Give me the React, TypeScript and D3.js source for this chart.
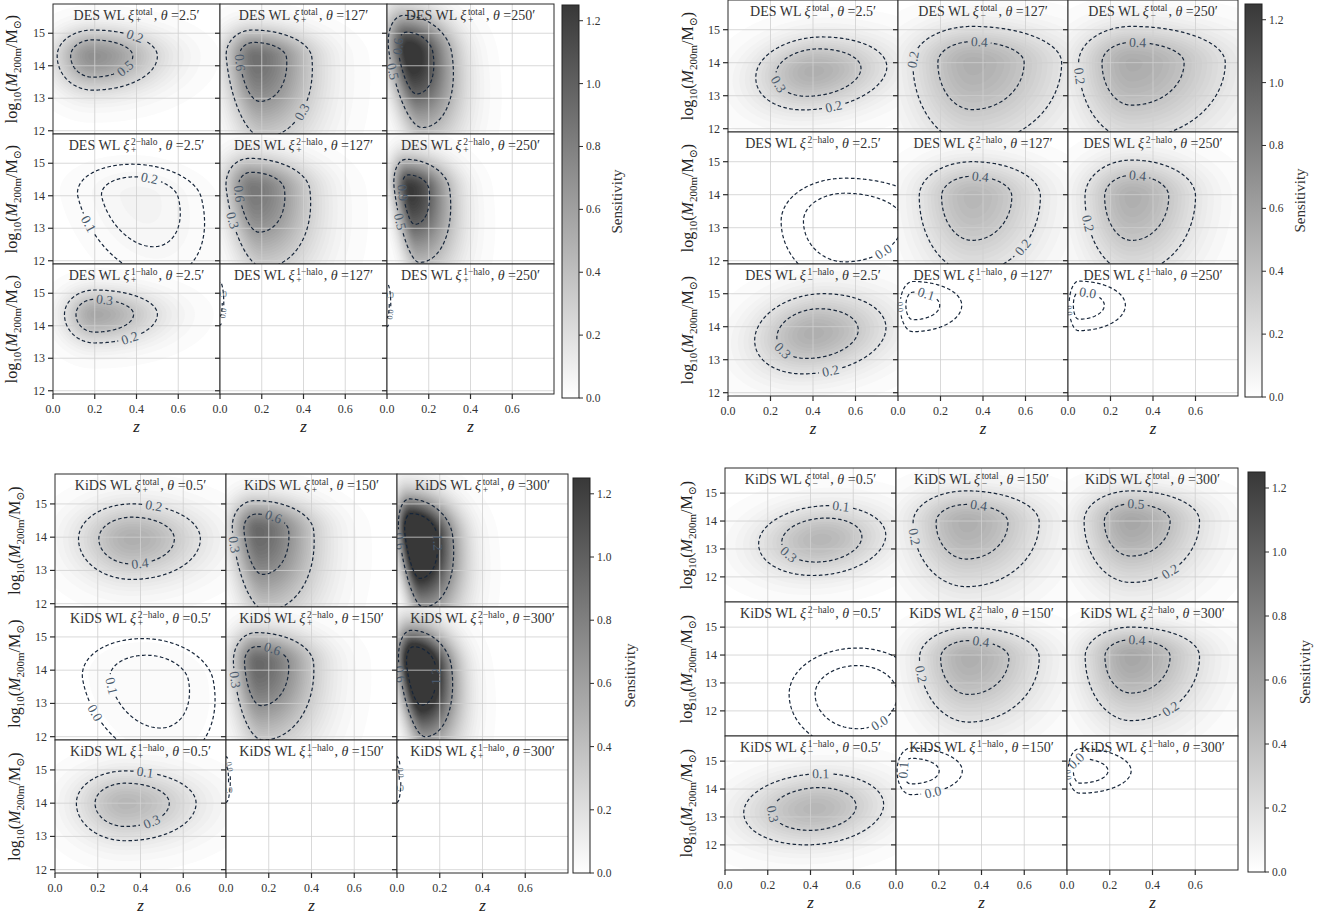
import React from 'react';
import * as d3 from 'd3';

// ---- values ----
const zTicks = [0, 0.2, 0.4, 0.6];
const massTicks = [12, 13, 14, 15];
const sensTicks = [0, 0.2, 0.4, 0.6, 0.8, 1.0, 1.2];
const rowKinds = ['total', '2−halo', '1−halo'];
const desThetas = ['2.5', '127', '250'];
const kidsThetas = ['0.5', '150', '300'];

// one blob per panel, row-major (total, 2-halo, 1-halo x three angles)
// [zPeak, logMPeak, zLeft, zRight, mUp, mDown, shear, innerRatio, peakSensitivity]
const desPlusBlobs = [
  [0.19, 14.3, 0.17, 0.31, 0.8, 1.05, 0, 0.62, 0.7],
  [0.17, 14.25, 0.14, 0.27, 0.85, 2.45, -0.015, 0.55, 0.9],
  [0.11, 14.4, 0.1, 0.2, 1.15, 2.3, -0.025, 0.55, 1.35],
  [0.42, 13.95, 0.3, 0.29, 1.02, 2.45, -0.04, 0.62, 0.07],
  [0.16, 14.2, 0.13, 0.27, 0.95, 2.4, -0.02, 0.55, 0.85],
  [0.11, 14.2, 0.075, 0.19, 0.92, 2.25, -0.02, 0.48, 1.25],
  [0.2, 14.35, 0.145, 0.3, 0.75, 0.88, 0, 0.62, 0.55],
  [0.0, 14.7, 0.01, 0.018, 0.65, 0.68, 0, 0.6, 0],
  [0.0, 14.65, 0.01, 0.018, 0.65, 0.68, 0, 0.6, 0],
];
const desMinusBlobs = [
  [0.4, 13.75, 0.265, 0.345, 1.03, 1.18, 0.04, 0.65, 0.5],
  [0.35, 14.0, 0.28, 0.42, 1.1, 2.45, 0, 0.58, 0.5],
  [0.3, 14.0, 0.25, 0.44, 1.1, 2.3, 0, 0.56, 0.52],
  [0.55, 13.2, 0.3, 0.42, 1.3, 1.9, 0, 0.65, 0],
  [0.35, 13.95, 0.25, 0.32, 1.05, 2.3, 0, 0.58, 0.45],
  [0.3, 13.95, 0.22, 0.3, 1.1, 2.3, 0, 0.58, 0.5],
  [0.4, 13.8, 0.27, 0.34, 1.2, 1.23, 0.04, 0.62, 0.5],
  [0.07, 14.65, 0.06, 0.23, 0.72, 0.8, 0, 0.55, 0],
  [0.05, 14.65, 0.045, 0.22, 0.73, 0.77, 0, 0.55, 0],
];
const kidsPlusBlobs = [
  [0.36, 13.95, 0.25, 0.32, 1.05, 1.22, 0, 0.62, 0.5],
  [0.15, 14.2, 0.12, 0.26, 0.9, 2.4, -0.015, 0.55, 0.95],
  [0.08, 14.05, 0.07, 0.18, 1.1, 2.15, -0.02, 0.6, 1.9],
  [0.45, 13.7, 0.32, 0.29, 1.25, 2.4, -0.03, 0.6, 0.03],
  [0.15, 14.2, 0.115, 0.26, 0.93, 2.3, -0.01, 0.55, 0.95],
  [0.09, 14.1, 0.08, 0.165, 1.1, 2.1, -0.02, 0.55, 1.9],
  [0.33, 14.0, 0.23, 0.33, 0.97, 1.13, 0, 0.62, 0.45],
  [0.0, 14.7, 0.01, 0.02, 0.7, 0.68, 0, 0.6, 0],
  [0.0, 14.7, 0.01, 0.018, 0.7, 0.68, 0, 0.6, 0],
];
const kidsMinusBlobs = [
  [0.45, 13.35, 0.29, 0.3, 1.2, 1.3, 0.03, 0.63, 0.45],
  [0.33, 13.95, 0.25, 0.34, 1.13, 2.3, 0, 0.57, 0.5],
  [0.3, 14.0, 0.22, 0.32, 1.08, 2.2, 0, 0.57, 0.55],
  [0.62, 12.6, 0.32, 0.3, 1.65, 2.0, 0, 0.62, 0],
  [0.34, 13.9, 0.23, 0.33, 1.08, 2.3, 0, 0.57, 0.5],
  [0.3, 13.95, 0.215, 0.32, 1.05, 2.3, 0, 0.57, 0.55],
  [0.42, 13.3, 0.33, 0.32, 1.25, 1.3, 0.03, 0.6, 0.45],
  [0.07, 14.65, 0.065, 0.24, 0.82, 0.85, 0, 0.55, 0],
  [0.06, 14.65, 0.055, 0.24, 0.8, 0.8, 0, 0.55, 0],
];

// contour labels per panel: [outer, inner], each [text, z, logM, fontSize?]
const desPlusLabels = [
  [['0.2', 0.4, 15.0], ['0.5', 0.335, 14.0]],
  [['0.3', 0.36, 12.7], ['0.6', 0.085, 14.1]],
  [['0.5', 0.015, 13.8], ['0.6', 0.05, 14.6]],
  [['0.1', 0.16, 13.1], ['0.2', 0.46, 14.5]],
  [['0.3', 0.065, 13.25], ['0.6', 0.08, 14.05]],
  [['0.5', 0.06, 13.2], ['0.9', 0.08, 14.1]],
  [['0.2', 0.36, 13.75], ['0.3', 0.25, 14.85]],
  [['0.0', 0.01, 14.4, 8], ['0.0', 0.008, 14.95, 8]],
  [['0.0', 0.01, 14.35, 8], ['0.0', 0.008, 14.9, 8]],
];
const desMinusLabels = [
  [['0.2', 0.49, 12.87], ['0.3', 0.245, 13.38]],
  [['0.2', 0.08, 14.08], ['0.4', 0.385, 14.64]],
  [['0.2', 0.07, 13.6], ['0.4', 0.33, 14.63]],
  [['0.0', 0.79, 11.95], ['0.0', 0.7, 12.6]],
  [['0.2', 0.57, 12.48], ['0.4', 0.39, 14.55]],
  [['0.2', 0.105, 13.15], ['0.4', 0.33, 14.6]],
  [['0.2', 0.48, 12.79], ['0.3', 0.256, 13.24]],
  [['0.0', 0.012, 14.6, 8], ['0.1', 0.13, 14.96]],
  [['0.0', 0.012, 14.5, 8], ['0.0', 0.094, 15.0]],
];
const kidsPlusLabels = [
  [['0.2', 0.46, 14.82], ['0.4', 0.395, 13.35]],
  [['0.3', 0.035, 13.77], ['0.6', 0.23, 14.73]],
  [['0.6', 0.02, 13.9], ['1.2', 0.165, 13.85]],
  [['0.0', 0.2, 12.76], ['0.1', 0.245, 13.47]],
  [['0.3', 0.03, 13.7], ['0.6', 0.22, 14.67]],
  [['0.6', 0.02, 13.9], ['1.2', 0.17, 13.8]],
  [['0.1', 0.42, 14.92], ['0.3', 0.445, 13.55]],
  [['0.0', 0.012, 15.1, 8], ['0.0', 0.008, 14.4, 8]],
  [['0.0', 0.01, 14.9, 8], ['0.0', 0.008, 14.45, 8]],
];
const kidsMinusLabels = [
  [['0.1', 0.54, 14.47], ['0.3', 0.31, 12.9]],
  [['0.2', 0.12, 13.5], ['0.4', 0.39, 14.57]],
  [['0.2', 0.467, 12.37], ['0.5', 0.325, 14.66]],
  [['0.0', 0.79, 11.25], ['0.0', 0.69, 11.97]],
  [['0.2', 0.128, 13.35], ['0.4', 0.4, 14.6]],
  [['0.2', 0.46, 12.35], ['0.4', 0.33, 14.7]],
  [['0.1', 0.45, 14.5], ['0.3', 0.16, 12.95]],
  [['0.0', 0.17, 14.0], ['0.1', 0.03, 14.7]],
  [['0.0', 0.012, 14.5, 8], ['0.0', 0.04, 15.0]],
];

// ---- layout of the four figures ----
const figures = [
  { key: 'dp', survey: 'DES', sign: '+', thetas: desThetas, blobs: desPlusBlobs, labels: desPlusLabels,
    left: 53, colW: 167, top: 4, rowH: 130, mMin: 11.9, mMax: 15.9, cbX: 562, cbTop: 5, cbBottom: 398, yLabelX: 17, cbLabelX: 617 },
  { key: 'dm', survey: 'DES', sign: '−', thetas: desThetas, blobs: desMinusBlobs, labels: desMinusLabels,
    left: 728, colW: 170, top: 0, rowH: 132, mMin: 11.9, mMax: 15.9, cbX: 1245, cbTop: 4, cbBottom: 397, yLabelX: 693, cbLabelX: 1300 },
  { key: 'kp', survey: 'KiDS', sign: '+', thetas: kidsThetas, blobs: kidsPlusBlobs, labels: kidsPlusLabels,
    left: 55, colW: 171, top: 474, rowH: 133, mMin: 11.9, mMax: 15.9, cbX: 573, cbTop: 478, cbBottom: 873, yLabelX: 20, cbLabelX: 630 },
  { key: 'km', survey: 'KiDS', sign: '−', thetas: kidsThetas, blobs: kidsMinusBlobs, labels: kidsMinusLabels,
    left: 725, colW: 171, top: 468, rowH: 134, mMin: 11.1, mMax: 15.9, cbX: 1248, cbTop: 472, cbBottom: 872, yLabelX: 692, cbLabelX: 1305 },
];

const SERIF = '"Liberation Serif", "DejaVu Serif", serif';
const SENS_MAX = 1.25;
const Z_MAX = 0.8;
const INK = '#2b2b2b';
const heatColor = d3.scaleSequential(d3.interpolateRgb('#ffffff', '#383838')).domain([0, SENS_MAX]).clamp(true);

const measureCtx = document.createElement('canvas').getContext('2d');
function textWidth(s: string, size: number, italic = false) {
  if (!measureCtx) return s.length * size * 0.5;
  measureCtx.font = `${italic ? 'italic ' : ''}${size}px ${SERIF}`;
  return measureCtx.measureText(s).width;
}

function blobShape(b: number[], z: number, m: number) {
  const [z0, m0, zL, zR, mU, mD, sh] = b;
  const dz = z - z0 - sh * (m - m0);
  const u = dz / (dz < 0 ? zL : zR);
  const dm = m - m0;
  const v = dm / (dm > 0 ? mU : mD);
  return Math.exp(-1.05 * (u * u + v * v));
}

function sampleGrid(b: number[], nx: number, ny: number, zLo: number, zHi: number, mLo: number, mHi: number, amp: number) {
  const vals = new Array(nx * ny);
  for (let j = 0; j < ny; j++) {
    const m = mHi - ((j + 0.5) * (mHi - mLo)) / ny;
    for (let i = 0; i < nx; i++) {
      const z = zLo + ((i + 0.5) * (zHi - zLo)) / nx;
      vals[j * nx + i] = amp * blobShape(b, z, m);
    }
  }
  return vals;
}

type Pt = [number, number];

function cutForLabel(rings: Pt[][], anchor: Pt, half: number) {
  let br = -1, bk = -1, bd = Infinity;
  rings.forEach((ring, r) => ring.forEach((p, k) => {
    const d = (p[0] - anchor[0]) ** 2 + (p[1] - anchor[1]) ** 2;
    if (d < bd) { bd = d; br = r; bk = k; }
  }));
  const lines: { pts: Pt[]; closed: boolean }[] = [];
  let place: { x: number; y: number; ang: number } | null = null;
  rings.forEach((ring, r) => {
    const pts = ring.slice(0, -1);
    if (r !== br) { lines.push({ pts, closed: true }); return; }
    const n = pts.length;
    const k = bk % n;
    const arr = pts.slice(k).concat(pts.slice(0, k));
    const c = arr[0];
    const far = (p: Pt) => Math.hypot(p[0] - c[0], p[1] - c[1]) > half;
    let s = 1;
    while (s < n && !far(arr[s])) s++;
    let e = n - 1;
    while (e > s && !far(arr[e])) e--;
    if (e > s) lines.push({ pts: arr.slice(s, e + 1), closed: false });
    const a = arr[Math.min(s, n - 1)], z = arr[Math.max(e, 0)];
    let ang = (Math.atan2(a[1] - z[1], a[0] - z[0]) * 180) / Math.PI;
    if (ang > 90) ang -= 180;
    if (ang < -90) ang += 180;
    place = { x: c[0], y: c[1], ang };
  });
  return { lines, place };
}

const lineGen = d3.line<Pt>();

function Panel({ fig, row, col }: any) {
  const idx = row * 3 + col;
  const b = fig.blobs[idx];
  const x0 = fig.left + col * fig.colW;
  const y0 = fig.top + row * fig.rowH;
  const xs = d3.scaleLinear().domain([0, Z_MAX]).range([x0, x0 + fig.colW]);
  const ys = d3.scaleLinear().domain([fig.mMin, fig.mMax]).range([y0 + fig.rowH, y0]);
  const zLo = -0.1, zHi = 0.9, mLo = fig.mMin - 0.5, mHi = fig.mMax + 0.5;
  const clipId = `clip-${fig.key}-${idx}`;

  // heat map as filled contour bands
  const hx = 100, hy = 72;
  const hgx = d3.scaleLinear().domain([0, hx]).range([xs(zLo), xs(zHi)]);
  const hgy = d3.scaleLinear().domain([0, hy]).range([ys(mHi), ys(mLo)]);
  const heatPath = d3.geoPath(d3.geoTransform({
    point(x: number, y: number) { (this as any).stream.point(hgx(x), hgy(y)); },
  }));
  let bands: any[] = [];
  if (b[8] > 0.01) {
    const heat = sampleGrid(b, hx, hy, zLo, zHi, mLo, mHi, b[8]);
    bands = d3.contours().size([hx, hy]).thresholds(d3.range(0.0125, SENS_MAX, 0.025))(heat)
      .filter((c: any) => c.coordinates.length > 0);
  }

  // dashed contour lines
  const cx = 200, cy = 140;
  const cgx = d3.scaleLinear().domain([0, cx]).range([xs(zLo), xs(zHi)]);
  const cgy = d3.scaleLinear().domain([0, cy]).range([ys(mHi), ys(mLo)]);
  const g = sampleGrid(b, cx, cy, zLo, zHi, mLo, mHi, 1);
  const gen = d3.contours().size([cx, cy]);
  const levels = [Math.exp(-1.05), Math.exp(-1.05 * b[7] * b[7])];
  const contourParts = levels.map((lv, li) => {
    const mp: any = gen.contour(g, lv);
    const rings: Pt[][] = mp.coordinates.flat().map((ring: number[][]) =>
      ring.map(([x, y]) => [cgx(x), cgy(y)] as Pt));
    const lab = fig.labels[idx][li];
    const size = lab[3] || 13.5;
    const half = textWidth(lab[0], size) / 2 + 3;
    const { lines, place } = cutForLabel(rings, [xs(lab[1]), ys(lab[2])], half);
    return { lines, place, text: lab[0], size };
  });

  return (
    <g>
      <clipPath id={clipId}>
        <rect x={x0} y={y0} width={fig.colW} height={fig.rowH} />
      </clipPath>
      <g clipPath={`url(#${clipId})`}>
        <rect x={x0} y={y0} width={fig.colW} height={fig.rowH} fill="#ffffff" />
        {bands.map((c: any, i: number) => (
          <path key={i} d={heatPath(c) || ''} fill={heatColor(c.value + 0.0125)} />
        ))}
        {zTicks.slice(1).map((t) => (
          <line key={'gz' + t} x1={xs(t)} x2={xs(t)} y1={y0} y2={y0 + fig.rowH} stroke="#cfcfcf" strokeOpacity={0.8} strokeWidth={1} />
        ))}
        {massTicks.map((t) => (
          <line key={'gm' + t} x1={x0} x2={x0 + fig.colW} y1={ys(t)} y2={ys(t)} stroke="#cfcfcf" strokeOpacity={0.8} strokeWidth={1} />
        ))}
        {contourParts.map((cp, li) => (
          <g key={'c' + li}>
            {cp.lines.map((ln, i) => (
              <path key={i} d={(lineGen(ln.pts) || '') + (ln.closed ? 'Z' : '')} fill="none"
                stroke="#17263a" strokeWidth={1.2} strokeDasharray="3.6 2.4" />
            ))}
            {cp.place && (
              <text x={cp.place.x} y={cp.place.y} transform={`rotate(${cp.place.ang},${cp.place.x},${cp.place.y})`}
                textAnchor="middle" dominantBaseline="central" fontFamily={SERIF} fontSize={cp.size} fill="#4a5a6c">
                {cp.text}
              </text>
            )}
          </g>
        ))}
      </g>
      <PanelTitle cx={x0 + fig.colW / 2} y={y0 + 16} survey={fig.survey} kind={rowKinds[row]} sign={fig.sign} theta={fig.thetas[col]} />
      <rect x={x0} y={y0} width={fig.colW} height={fig.rowH} fill="none" stroke={INK} strokeWidth={1} />
      {massTicks.map((t) => (
        <line key={'tm' + t} x1={x0 - 5} x2={x0} y1={ys(t)} y2={ys(t)} stroke={INK} strokeWidth={1.2} />
      ))}
      {col === 0 && massTicks.map((t) => (
        <text key={'lm' + t} x={x0 - 8} y={ys(t)} dominantBaseline="central" textAnchor="end" fontFamily={SERIF} fontSize={12} fill="#333">
          {t}
        </text>
      ))}
      {row === 2 && zTicks.map((t) => (
        <g key={'tz' + t}>
          <line x1={xs(t)} x2={xs(t)} y1={y0 + fig.rowH} y2={y0 + fig.rowH + 5} stroke={INK} strokeWidth={1.2} />
          <text x={xs(t)} y={y0 + fig.rowH + 19} textAnchor="middle" fontFamily={SERIF} fontSize={12} fill="#333">
            {t.toFixed(1)}
          </text>
        </g>
      ))}
      {row === 2 && (
        <text x={x0 + fig.colW / 2} y={y0 + fig.rowH + 38} textAnchor="middle" fontFamily={SERIF} fontStyle="italic" fontSize={17} fill="#222">
          z
        </text>
      )}
    </g>
  );
}

function PanelTitle({ cx, y, survey, kind, sign, theta }: any) {
  const fs = 14, ss = 9.5;
  const base = `${survey} WL `;
  const wBase = textWidth(base, fs);
  const wXi = textWidth('ξ', fs, true);
  const wScript = Math.max(textWidth(kind, ss), textWidth(sign, ss));
  const tail = ` =${theta}′`;
  const wTail = textWidth(', ', fs) + textWidth('θ', fs, true) + textWidth(tail, fs);
  const total = wBase + wXi + 1 + wScript + 1 + wTail;
  const x = cx - total / 2;
  const xs = x + wBase + wXi + 1;
  const xt = xs + wScript + 1;
  return (
    <g fontFamily={SERIF} fill="#333">
      <text x={x} y={y} fontSize={fs}>
        {base}<tspan fontStyle="italic">ξ</tspan>
      </text>
      <text x={xs} y={y - 5.5} fontSize={ss}>{kind}</text>
      <text x={xs} y={y + 3} fontSize={ss}>{sign}</text>
      <text x={xt} y={y} fontSize={fs}>
        {', '}<tspan fontStyle="italic">θ</tspan>{tail}
      </text>
    </g>
  );
}

function MassLabel({ x, y }: any) {
  return (
    <text transform={`translate(${x},${y}) rotate(-90)`} textAnchor="middle" fontFamily={SERIF} fontSize={16} fill="#222">
      log<tspan fontSize={11} dy={4}>10</tspan><tspan dy={-4}>(</tspan><tspan fontStyle="italic">M</tspan>
      <tspan fontSize={11} dy={4}>200m</tspan><tspan dy={-4}>/M</tspan><tspan fontSize={11} dy={4}>⊙</tspan>
      <tspan dy={-4}>)</tspan>
    </text>
  );
}

function Colorbar({ fig }: any) {
  const cs = d3.scaleLinear().domain([0, SENS_MAX]).range([fig.cbBottom, fig.cbTop]);
  const w = 17;
  const gid = `grad-${fig.key}`;
  const stops = d3.range(0, 1.0001, 0.1);
  return (
    <g>
      <linearGradient id={gid} x1="0" y1="1" x2="0" y2="0">
        {stops.map((t) => (
          <stop key={t} offset={t} stopColor={heatColor(t * SENS_MAX)} />
        ))}
      </linearGradient>
      <rect x={fig.cbX} y={fig.cbTop} width={w} height={fig.cbBottom - fig.cbTop} fill={`url(#${gid})`} stroke="#222" strokeWidth={1} />
      {sensTicks.map((t) => (
        <g key={t}>
          <line x1={fig.cbX + w} x2={fig.cbX + w + 4} y1={cs(t)} y2={cs(t)} stroke={INK} strokeWidth={1} />
          <text x={fig.cbX + w + 7} y={cs(t)} dominantBaseline="central" fontFamily={SERIF} fontSize={11.5} fill="#333">
            {t.toFixed(1)}
          </text>
        </g>
      ))}
      <text transform={`translate(${fig.cbLabelX},${(fig.cbTop + fig.cbBottom) / 2}) rotate(-90)`} textAnchor="middle"
        dominantBaseline="central" fontFamily={SERIF} fontSize={15} fill="#333">
        Sensitivity
      </text>
    </g>
  );
}

export default function App() {
  return (
    <svg width={1330} height={918} style={{ position: 'absolute', left: 0, top: 0, background: '#fff' }}>
      <rect width={1330} height={918} fill="#fff" />
      {figures.map((fig) => (
        <g key={fig.key}>
          {[0, 1, 2].map((row) => [0, 1, 2].map((col) => (
            <Panel key={`${row}-${col}`} fig={fig} row={row} col={col} />
          )))}
          {[0, 1, 2].map((row) => (
            <MassLabel key={row} x={fig.yLabelX} y={fig.top + row * fig.rowH + fig.rowH / 2} />
          ))}
          <Colorbar fig={fig} />
        </g>
      ))}
    </svg>
  );
}
